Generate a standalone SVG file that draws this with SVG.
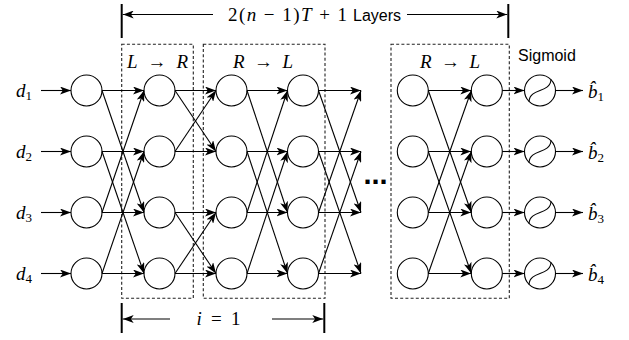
<svg xmlns="http://www.w3.org/2000/svg" width="629" height="340" viewBox="0 0 629 340">
<style>
.n{fill:#fff;stroke:#000;stroke-width:1.1}
.c{fill:none;stroke:#000;stroke-width:1.1;marker-end:url(#ah)}
.cs{fill:none;stroke:#000;stroke-width:1.1}
.box{fill:none;stroke:#222;stroke-width:1.1;stroke-dasharray:3,2.2}
.bar{stroke:#000;stroke-width:2}
.m{font-family:"Liberation Serif","DejaVu Serif",serif;font-size:19px;fill:#000}
.it{font-style:italic}
.up{font-style:normal}
.s{font-family:"Liberation Sans",Arial,sans-serif;font-size:16px;fill:#000}
.sub{font-size:13px;font-style:normal}
</style>
<defs>
<marker id="ah" viewBox="0 0 11 8" refX="11" refY="4" markerWidth="11" markerHeight="8" markerUnits="userSpaceOnUse" orient="auto">
<path d="M0,0 L11,4 L0,8 L2.8,4 z" fill="#000"/>
</marker>
</defs>

<g id="frames">
<rect id="box-LR" class="box" x="121.7" y="44.3" width="71.6" height="254"/>
<rect id="box-RL1" class="box" x="203.3" y="44.3" width="121.7" height="254"/>
<rect id="box-RL2" class="box" x="391" y="44.3" width="118.3" height="254"/>
</g>

<g id="labels">
<text class="m" x="228" y="21" textLength="119" lengthAdjust="spacing">2(<tspan class="it">n</tspan> − 1)<tspan class="it">T</tspan> + 1</text>
<text class="s" x="353" y="21">Layers</text>
<text class="m" x="127" y="68" textLength="61" lengthAdjust="spacing"><tspan class="it">L</tspan> → <tspan class="it">R</tspan></text>
<text class="m" x="233" y="68" textLength="60" lengthAdjust="spacing"><tspan class="it">R</tspan> → <tspan class="it">L</tspan></text>
<text class="m" x="420" y="68" textLength="60" lengthAdjust="spacing"><tspan class="it">R</tspan> → <tspan class="it">L</tspan></text>
<text class="s" x="518" y="61">Sigmoid</text>
<text class="m" x="196.5" y="325" textLength="44" lengthAdjust="spacing"><tspan class="it">i</tspan> = 1</text>
<text x="363.5" y="183.5" style="font-family:'Liberation Sans',Arial,sans-serif;font-weight:bold;font-size:29px">...</text>
<text class="m it" x="16" y="97">d<tspan class="sub" dy="3">1</tspan></text>
<text class="m it" x="16" y="158">d<tspan class="sub" dy="3">2</tspan></text>
<text class="m it" x="16" y="219">d<tspan class="sub" dy="3">3</tspan></text>
<text class="m it" x="16" y="280">d<tspan class="sub" dy="3">4</tspan></text>
<text class="m it" x="588" y="98">b&#x302;<tspan class="sub" dy="3">1</tspan></text>
<text class="m it" x="588" y="159">b&#x302;<tspan class="sub" dy="3">2</tspan></text>
<text class="m it" x="588" y="220">b&#x302;<tspan class="sub" dy="3">3</tspan></text>
<text class="m it" x="588" y="281">b&#x302;<tspan class="sub" dy="3">4</tspan></text>
</g>

<g id="col0">
<circle id="n0-1" class="n" cx="86.5" cy="90.5" r="15.5"/>
<circle id="n0-2" class="n" cx="86.5" cy="151.5" r="15.5"/>
<circle id="n0-3" class="n" cx="86.5" cy="212.5" r="15.5"/>
<circle id="n0-4" class="n" cx="86.5" cy="273.5" r="15.5"/>
</g>
<g id="col1">
<circle id="n1-1" class="n" cx="159.5" cy="90.5" r="15.5"/>
<circle id="n1-2" class="n" cx="159.5" cy="151.5" r="15.5"/>
<circle id="n1-3" class="n" cx="159.5" cy="212.5" r="15.5"/>
<circle id="n1-4" class="n" cx="159.5" cy="273.5" r="15.5"/>
</g>
<g id="col2">
<circle id="n2-1" class="n" cx="231.5" cy="90.5" r="15.5"/>
<circle id="n2-2" class="n" cx="231.5" cy="151.5" r="15.5"/>
<circle id="n2-3" class="n" cx="231.5" cy="212.5" r="15.5"/>
<circle id="n2-4" class="n" cx="231.5" cy="273.5" r="15.5"/>
</g>
<g id="col3">
<circle id="n3-1" class="n" cx="303" cy="90.5" r="15.5"/>
<circle id="n3-2" class="n" cx="303" cy="151.5" r="15.5"/>
<circle id="n3-3" class="n" cx="303" cy="212.5" r="15.5"/>
<circle id="n3-4" class="n" cx="303" cy="273.5" r="15.5"/>
</g>
<g id="col5">
<circle id="n5-1" class="n" cx="412.8" cy="90.5" r="15.5"/>
<circle id="n5-2" class="n" cx="412.8" cy="151.5" r="15.5"/>
<circle id="n5-3" class="n" cx="412.8" cy="212.5" r="15.5"/>
<circle id="n5-4" class="n" cx="412.8" cy="273.5" r="15.5"/>
</g>
<g id="col6">
<circle id="n6-1" class="n" cx="486.8" cy="90.5" r="15.5"/>
<circle id="n6-2" class="n" cx="486.8" cy="151.5" r="15.5"/>
<circle id="n6-3" class="n" cx="486.8" cy="212.5" r="15.5"/>
<circle id="n6-4" class="n" cx="486.8" cy="273.5" r="15.5"/>
</g>
<g id="sigmoid">
<g id="sg1"><circle class="n" cx="540" cy="90.5" r="15.5"/><path class="cs" d="M529,101.5 C530,87.5 550,93.5 551,79.5"/></g>
<g id="sg2"><circle class="n" cx="540" cy="151.5" r="15.5"/><path class="cs" d="M529,162.5 C530,148.5 550,154.5 551,140.5"/></g>
<g id="sg3"><circle class="n" cx="540" cy="212.5" r="15.5"/><path class="cs" d="M529,223.5 C530,209.5 550,215.5 551,201.5"/></g>
<g id="sg4"><circle class="n" cx="540" cy="273.5" r="15.5"/><path class="cs" d="M529,284.5 C530,270.5 550,276.5 551,262.5"/></g>
</g>

<g id="connectors">
<line class="bar" x1="121.7" y1="4" x2="121.7" y2="38"/>
<line class="bar" x1="508.3" y1="4" x2="508.3" y2="38"/>
<path class="c" d="M213,14.5 L122.7,14.5"/>
<path class="c" d="M407,14.5 L507.3,14.5"/>
<line class="bar" x1="121.7" y1="303" x2="121.7" y2="333"/>
<line class="bar" x1="324.3" y1="303" x2="324.3" y2="333"/>
<path class="c" d="M170,319 L122.7,319"/>
<path class="c" d="M272,319 L323.3,319"/>
<path class="c" d="M41,90.5 H71"/>
<path class="c" d="M41,151.5 H71"/>
<path class="c" d="M41,212.5 H71"/>
<path class="c" d="M41,273.5 H71"/>
<path class="c" d="M102,90.5 L144,90.5"/>
<path class="c" d="M102,151.5 L144,151.5"/>
<path class="c" d="M102,212.5 L144,212.5"/>
<path class="c" d="M102,273.5 L144,273.5"/>
<path class="c" d="M102,90.5 L144,212.5"/>
<path class="c" d="M102,212.5 L144,90.5"/>
<path class="c" d="M102,151.5 L144,273.5"/>
<path class="c" d="M102,273.5 L144,151.5"/>
<path class="c" d="M175,90.5 L216,90.5"/>
<path class="c" d="M175,151.5 L216,151.5"/>
<path class="c" d="M175,212.5 L216,212.5"/>
<path class="c" d="M175,273.5 L216,273.5"/>
<path class="c" d="M175,90.5 L216,151.5"/>
<path class="c" d="M175,151.5 L216,90.5"/>
<path class="c" d="M175,212.5 L216,273.5"/>
<path class="c" d="M175,273.5 L216,212.5"/>
<path class="c" d="M247,90.5 L287.5,90.5"/>
<path class="c" d="M247,151.5 L287.5,151.5"/>
<path class="c" d="M247,212.5 L287.5,212.5"/>
<path class="c" d="M247,273.5 L287.5,273.5"/>
<path class="c" d="M247,90.5 L287.5,212.5"/>
<path class="c" d="M247,212.5 L287.5,90.5"/>
<path class="c" d="M247,151.5 L287.5,273.5"/>
<path class="c" d="M247,273.5 L287.5,151.5"/>
<path class="c" d="M318.5,90.5 L361,90.5"/>
<path class="c" d="M318.5,151.5 L361,151.5"/>
<path class="c" d="M318.5,212.5 L361,212.5"/>
<path class="c" d="M318.5,273.5 L361,273.5"/>
<path class="c" d="M318.5,90.5 L361,212.5"/>
<path class="c" d="M318.5,212.5 L361,90.5"/>
<path class="c" d="M318.5,151.5 L361,273.5"/>
<path class="c" d="M318.5,273.5 L361,151.5"/>
<path class="c" d="M428.3,90.5 L471.3,90.5"/>
<path class="c" d="M428.3,151.5 L471.3,151.5"/>
<path class="c" d="M428.3,212.5 L471.3,212.5"/>
<path class="c" d="M428.3,273.5 L471.3,273.5"/>
<path class="c" d="M428.3,90.5 L471.3,212.5"/>
<path class="c" d="M428.3,212.5 L471.3,90.5"/>
<path class="c" d="M428.3,151.5 L471.3,273.5"/>
<path class="c" d="M428.3,273.5 L471.3,151.5"/>
<path class="c" d="M502.3,90.5 H524.5"/>
<path class="c" d="M502.3,151.5 H524.5"/>
<path class="c" d="M502.3,212.5 H524.5"/>
<path class="c" d="M502.3,273.5 H524.5"/>
<path class="c" d="M555.5,90.5 H583"/>
<path class="c" d="M555.5,151.5 H583"/>
<path class="c" d="M555.5,212.5 H583"/>
<path class="c" d="M555.5,273.5 H583"/>
</g>
</svg>
